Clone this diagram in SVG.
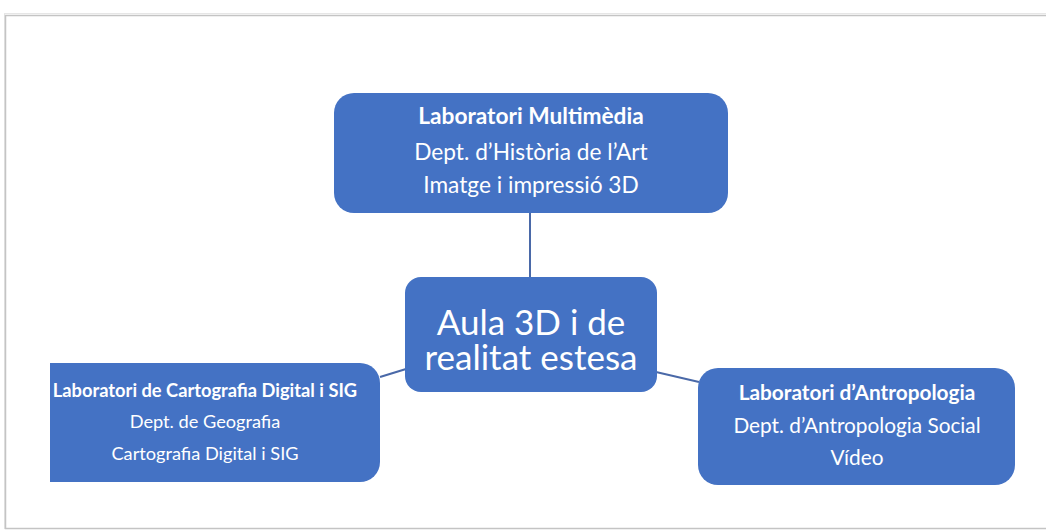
<svg xmlns="http://www.w3.org/2000/svg" width="1046" height="530" viewBox="0 0 1046 530">
<style>
.box{fill:#4472C4}
.t{font-family:Lato,"Liberation Sans",sans-serif;fill:#ffffff;text-anchor:middle}
.b{font-weight:bold}
.conn{stroke:#4a69a8;stroke-width:2;fill:none}
</style>
<rect x="0" y="0" width="1046" height="530" fill="#ffffff"/>
<rect x="4.5" y="13.5" width="1060" height="515" fill="none" stroke="#e6e6e6" stroke-width="1"/>
<rect x="5.5" y="15.5" width="1060" height="513" fill="none" stroke="#c4c4c4" stroke-width="1.5"/>
<g id="connectors">
<line class="conn" x1="530" y1="213" x2="530" y2="278"/>
<line class="conn" x1="380" y1="377" x2="406" y2="369"/>
<line class="conn" x1="656" y1="372" x2="699" y2="382"/>
</g>
<g id="node-multimedia">
<rect class="box" x="334" y="93" width="394" height="120" rx="20"/>
<text class="t b" x="531" y="124" font-size="22.7">Laboratori Multimèdia</text>
<text class="t" x="531" y="160" font-size="22.7">Dept. d’Història de l’Art</text>
<text class="t" x="531" y="193" font-size="22.7">Imatge i impressió 3D</text>
</g>
<g id="node-aula">
<rect class="box" x="405" y="277" width="252" height="115" rx="16"/>
<text class="t" x="531" y="335" font-size="35">Aula 3D i de</text>
<text class="t" x="531" y="370" font-size="35">realitat estesa</text>
</g>
<g id="node-cartografia">
<path class="box" d="M50 363 H360 A20 20 0 0 1 380 383 V462 A20 20 0 0 1 360 482 H50 Z"/>
<text class="t b" x="205" y="397" font-size="18.3">Laboratori de Cartografia Digital i SIG</text>
<text class="t" x="205" y="428" font-size="18.2">Dept. de Geografia</text>
<text class="t" x="205" y="460" font-size="18.2">Cartografia Digital i SIG</text>
</g>
<g id="node-antropologia">
<rect class="box" x="698" y="368" width="317" height="117" rx="20"/>
<text class="t b" x="857" y="400" font-size="20.8">Laboratori d’Antropologia</text>
<text class="t" x="857" y="433" font-size="20.8">Dept. d’Antropologia Social</text>
<text class="t" x="857" y="465" font-size="20.8">Vídeo</text>
</g>
</svg>
